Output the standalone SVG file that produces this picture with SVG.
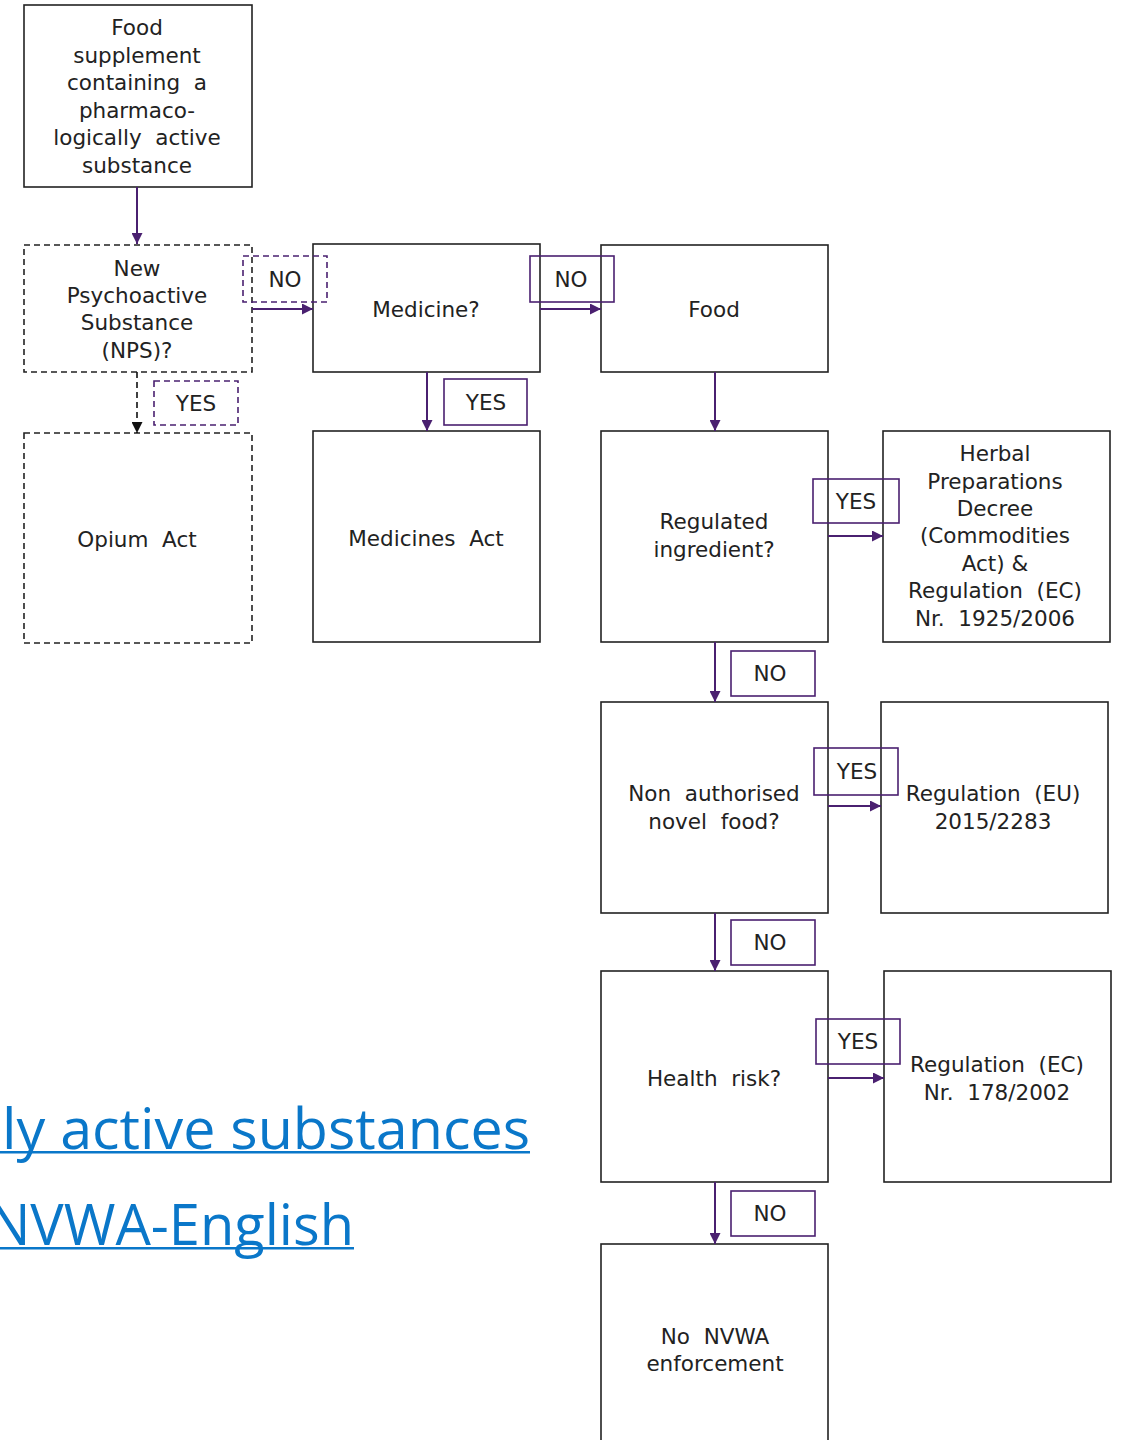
<svg xmlns="http://www.w3.org/2000/svg" width="1121" height="1440" viewBox="0 0 1121 1440">
<style>
.box{fill:#fff;stroke:#222;stroke-width:1.6}
.dbox{fill:#fff;stroke:#222;stroke-width:1.6;stroke-dasharray:6 4}
.lab{fill:none;stroke:#4a2070;stroke-width:1.6}
.dlab{fill:none;stroke:#4a2070;stroke-width:1.6;stroke-dasharray:6 4}
.t{font-family:"DejaVu Sans",Verdana,sans-serif;font-size:21.5px;fill:#222;text-anchor:middle;white-space:pre}
.c{stroke:#4a2070;stroke-width:2;fill:none}
.link{font-family:"Open Sans","Noto Sans",sans-serif;font-size:56px;fill:#0a77c9}
</style>
<defs>
<marker id="ap" viewBox="0 0 10 10" refX="10" refY="5" markerWidth="12" markerHeight="11" orient="auto" markerUnits="userSpaceOnUse"><path d="M0,0L10,5L0,10z" fill="#4a2070"/></marker>
<marker id="ab" viewBox="0 0 10 10" refX="10" refY="5" markerWidth="12" markerHeight="11" orient="auto" markerUnits="userSpaceOnUse"><path d="M0,0L10,5L0,10z" fill="#111"/></marker>
</defs>
<rect width="1121" height="1440" fill="#fff"/>

<g id="links">
<text class="link" x="2" y="1149" textLength="528" lengthAdjust="spacingAndGlyphs">ly active substances</text>
<rect x="0" y="1151" width="530" height="2.5" fill="#0a77c9"/>
<text class="link" x="354" y="1245" text-anchor="end">NVWA-English</text>
<rect x="0" y="1247" width="354" height="2.5" fill="#0a77c9"/>
</g>

<g id="n-start"><rect class="box" x="24" y="5" width="228" height="182"/>
<text class="t" xml:space="preserve"><tspan x="137" y="35">Food</tspan><tspan x="137" y="63">supplement</tspan><tspan x="137" y="90">containing  a</tspan><tspan x="137" y="118">pharmaco-</tspan><tspan x="137" y="145">logically  active</tspan><tspan x="137" y="173">substance</tspan></text></g>

<g id="n-nps"><rect class="dbox" x="24" y="245" width="228" height="127"/>
<text class="t"><tspan x="137" y="276">New</tspan><tspan x="137" y="303">Psychoactive</tspan><tspan x="137" y="330">Substance</tspan><tspan x="137" y="358">(NPS)?</tspan></text></g>

<g id="n-medicine"><rect class="box" x="313" y="244" width="227" height="128"/>
<text class="t" x="426" y="317">Medicine?</text></g>

<g id="n-food"><rect class="box" x="601" y="245" width="227" height="127"/>
<text class="t" x="714" y="317">Food</text></g>

<g id="n-opium"><rect class="dbox" x="24" y="433" width="228" height="210"/>
<text class="t" x="137" y="547" xml:space="preserve">Opium  Act</text></g>

<g id="n-medact"><rect class="box" x="313" y="431" width="227" height="211"/>
<text class="t" x="426" y="546" xml:space="preserve">Medicines  Act</text></g>

<g id="n-regulated"><rect class="box" x="601" y="431" width="227" height="211"/>
<text class="t"><tspan x="714" y="529">Regulated</tspan><tspan x="714" y="557">ingredient?</tspan></text></g>

<g id="n-herbal"><rect class="box" x="883" y="431" width="227" height="211"/>
<text class="t" xml:space="preserve"><tspan x="995" y="461">Herbal</tspan><tspan x="995" y="489">Preparations</tspan><tspan x="995" y="516">Decree</tspan><tspan x="995" y="543">(Commodities</tspan><tspan x="995" y="571">Act) &amp;</tspan><tspan x="995" y="598">Regulation  (EC)</tspan><tspan x="995" y="626">Nr.  1925/2006</tspan></text></g>

<g id="n-novel"><rect class="box" x="601" y="702" width="227" height="211"/>
<text class="t" xml:space="preserve"><tspan x="714" y="801">Non  authorised</tspan><tspan x="714" y="829">novel  food?</tspan></text></g>

<g id="n-eu2015"><rect class="box" x="881" y="702" width="227" height="211"/>
<text class="t" xml:space="preserve"><tspan x="993" y="801">Regulation  (EU)</tspan><tspan x="993" y="829">2015/2283</tspan></text></g>

<g id="n-health"><rect class="box" x="601" y="971" width="227" height="211"/>
<text class="t" x="714" y="1086" xml:space="preserve">Health  risk?</text></g>

<g id="n-ec178"><rect class="box" x="884" y="971" width="227" height="211"/>
<text class="t" xml:space="preserve"><tspan x="997" y="1072">Regulation  (EC)</tspan><tspan x="997" y="1100">Nr.  178/2002</tspan></text></g>

<g id="n-none"><rect class="box" x="601" y="1244" width="227" height="210"/>
<text class="t" xml:space="preserve"><tspan x="715" y="1344">No  NVWA</tspan><tspan x="715" y="1371">enforcement</tspan></text></g>

<g id="connectors">
<line class="c" x1="137" y1="187" x2="137" y2="244" marker-end="url(#ap)"/>
<line class="c" x1="252" y1="309" x2="313" y2="309" marker-end="url(#ap)"/>
<line class="c" x1="540" y1="309" x2="601" y2="309" marker-end="url(#ap)"/>
<line x1="137" y1="372" x2="137" y2="433" stroke="#111" stroke-width="1.6" stroke-dasharray="6 4" marker-end="url(#ab)"/>
<line class="c" x1="427" y1="372" x2="427" y2="431" marker-end="url(#ap)"/>
<line class="c" x1="715" y1="372" x2="715" y2="431" marker-end="url(#ap)"/>
<line class="c" x1="828" y1="536" x2="883" y2="536" marker-end="url(#ap)"/>
<line class="c" x1="715" y1="642" x2="715" y2="702" marker-end="url(#ap)"/>
<line class="c" x1="828" y1="806" x2="881" y2="806" marker-end="url(#ap)"/>
<line class="c" x1="715" y1="913" x2="715" y2="971" marker-end="url(#ap)"/>
<line class="c" x1="828" y1="1078" x2="884" y2="1078" marker-end="url(#ap)"/>
<line class="c" x1="715" y1="1182" x2="715" y2="1244" marker-end="url(#ap)"/>

<rect class="dlab" x="243" y="256" width="84" height="46"/><text class="t" x="285" y="287">NO</text>
<rect class="lab" x="530" y="256" width="84" height="46"/><text class="t" x="571" y="287">NO</text>
<rect class="dlab" x="154" y="381" width="84" height="44"/><text class="t" x="196" y="411">YES</text>
<rect class="lab" x="444" y="379" width="83" height="46"/><text class="t" x="486" y="410">YES</text>
<rect class="lab" x="813" y="479" width="86" height="44"/><text class="t" x="856" y="509">YES</text>
<rect class="lab" x="731" y="651" width="84" height="45"/><text class="t" x="770" y="681">NO</text>
<rect class="lab" x="814" y="748" width="84" height="47"/><text class="t" x="857" y="779">YES</text>
<rect class="lab" x="731" y="920" width="84" height="45"/><text class="t" x="770" y="950">NO</text>
<rect class="lab" x="816" y="1019" width="84" height="45"/><text class="t" x="858" y="1049">YES</text>
<rect class="lab" x="731" y="1191" width="84" height="45"/><text class="t" x="770" y="1221">NO</text>
</g>
</svg>
